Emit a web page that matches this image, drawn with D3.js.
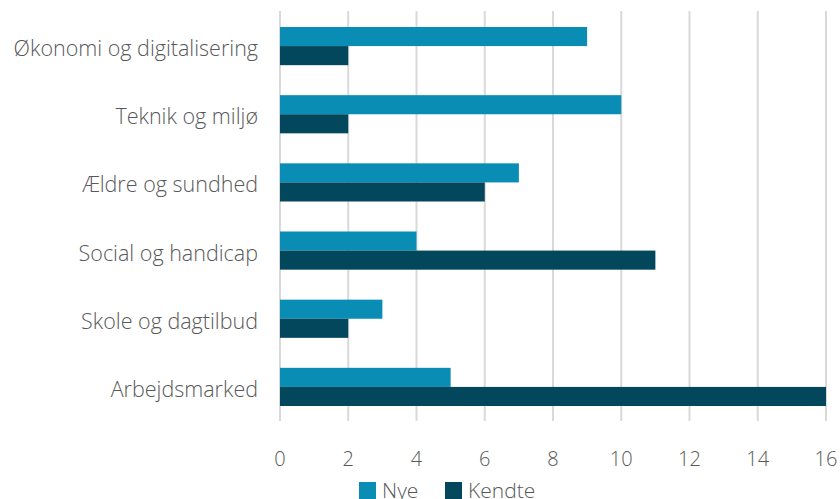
<!DOCTYPE html>
<html><head><meta charset="utf-8">
<script src="https://cdn.jsdelivr.net/npm/d3@7"></script>
<style>body{margin:0;background:#fff}svg text{font-family:"Open Sans",Lato,sans-serif;font-weight:300;fill:#595959}</style>
</head><body><svg id="c" width="840" height="499"></svg>
<script>
const categories = ["Økonomi og digitalisering","Teknik og miljø","Ældre og sundhed","Social og handicap","Skole og dagtilbud","Arbejdsmarked"];
const seriesNames = ["Nye","Kendte"];
const nye = [9,10,7,4,3,5];
const kendte = [2,2,6,11,2,16];
const ticks = [0,2,4,6,8,10,12,14,16];
const colors = ["#0a8db5","#02475c"];

const svg = d3.select("#c");
const x = d3.scaleLinear().domain([0,16]).range([280,826]);
const y = d3.scaleBand().domain(categories).range([12,421]).paddingInner(0.44).paddingOuter(0.22);
const ys = d3.scaleBand().domain(seriesNames).range([0,y.bandwidth()]);

svg.append("g").selectAll("line").data(ticks).join("line")
  .attr("x1",d=>x(d)).attr("x2",d=>x(d)).attr("y1",11).attr("y2",421)
  .attr("stroke","#d9d9d9").attr("stroke-width",2);

const data = categories.map((c,i)=>({c, vals:[nye[i],kendte[i]]}));
const g = svg.append("g").selectAll("g").data(data).join("g").attr("transform",d=>`translate(0,${y(d.c)})`);
g.selectAll("rect").data(d=>d.vals.map((v,j)=>({v,s:seriesNames[j],j}))).join("rect")
  .attr("x",x(0)).attr("y",d=>ys(d.s)).attr("height",ys.bandwidth()).attr("width",d=>x(d.v)-x(0))
  .attr("fill",d=>colors[d.j]);

svg.append("g").selectAll("text").data(categories).join("text")
  .attr("x",258).attr("y",d=>y(d)+y.bandwidth()/2+10).attr("text-anchor","end")
  .attr("font-size",21.5).text(d=>d);

svg.append("g").selectAll("text").data(ticks).join("text")
  .attr("x",d=>x(d)).attr("y",466).attr("text-anchor","middle")
  .attr("font-size",20).text(d=>d);

const leg = svg.append("g");
const lx = [359,445];
seriesNames.forEach((s,i)=>{
  leg.append("rect").attr("x",lx[i]).attr("y",482).attr("width",17).attr("height",17).attr("fill",colors[i]);
  leg.append("text").attr("x",lx[i]+23).attr("y",498).attr("font-size",21).text(s);
});
</script></body></html>
